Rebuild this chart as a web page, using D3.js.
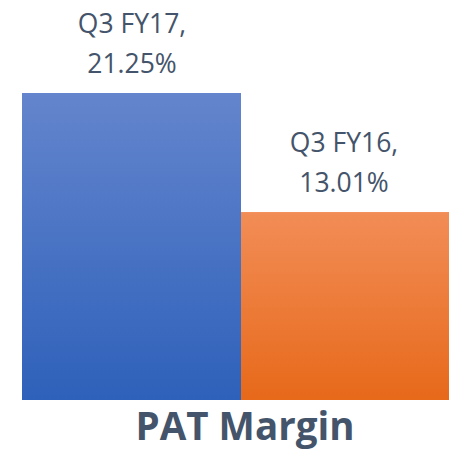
<!DOCTYPE html>
<html>
<head>
<meta charset="utf-8">
<script src="https://cdn.jsdelivr.net/npm/d3@7"></script>
<style>
  body { margin: 0; background: #fff; }
</style>
</head>
<body>
<div id="container"></div>
<script>
const periods = ['Q3 FY17', 'Q3 FY16'];
const margins = [21.25, 13.01];
const labels = ['21.25%', '13.01%'];
const title = 'PAT Margin';

const svgWidth = 449,
  svgHeight = 455,
  baseline = 400;

const svg = d3
  .select('#container')
  .append('svg')
  .attr('width', svgWidth)
  .attr('height', svgHeight);

const defs = svg.append('defs');
const grads = [
  ['gradBlue', '#6485CD', '#2E61BA'],
  ['gradOrange', '#F28D57', '#E7691A'],
];
grads.forEach(([id, top, bottom]) => {
  const g = defs
    .append('linearGradient')
    .attr('id', id)
    .attr('x1', 0)
    .attr('y1', 0)
    .attr('x2', 0)
    .attr('y2', 1);
  g.append('stop').attr('offset', '0%').attr('stop-color', top);
  g.append('stop').attr('offset', '100%').attr('stop-color', bottom);
});

const xScale = d3
  .scaleBand()
  .domain(periods)
  .range([22, 460])
  .padding(0);

const yScale = d3.scaleLinear().domain([0, 21.25]).range([baseline, 93]);

svg
  .selectAll('rect.bar')
  .data(periods)
  .enter()
  .append('rect')
  .attr('class', 'bar')
  .attr('x', (d) => xScale(d))
  .attr('y', (d, i) => yScale(margins[i]))
  .attr('width', xScale.bandwidth())
  .attr('height', (d, i) => baseline - yScale(margins[i]))
  .attr('fill', (d, i) => `url(#${grads[i][0]})`);

const labelX = [132, 344];

const lbl = svg
  .selectAll('text.label')
  .data(periods)
  .enter()
  .append('text')
  .attr('class', 'label')
  .attr('text-anchor', 'middle')
  .attr('font-family', 'Open Sans, Liberation Sans, sans-serif')
  .attr('font-size', 26.5)
  .attr('fill', '#44546A');

lbl
  .append('tspan')
  .attr('x', (d, i) => labelX[i])
  .attr('y', (d, i) => yScale(margins[i]) - 60)
  .text((d) => d + ',');

lbl
  .append('tspan')
  .attr('x', (d, i) => labelX[i])
  .attr('y', (d, i) => yScale(margins[i]) - 20)
  .text((d, i) => labels[i]);

svg
  .append('text')
  .attr('x', 245)
  .attr('y', 440)
  .attr('text-anchor', 'middle')
  .attr('font-family', 'Open Sans, Liberation Sans, sans-serif')
  .attr('font-weight', 'bold')
  .attr('font-size', 38.5)
  .attr('fill', '#44546A')
  .text(title);
</script>
</body>
</html>
